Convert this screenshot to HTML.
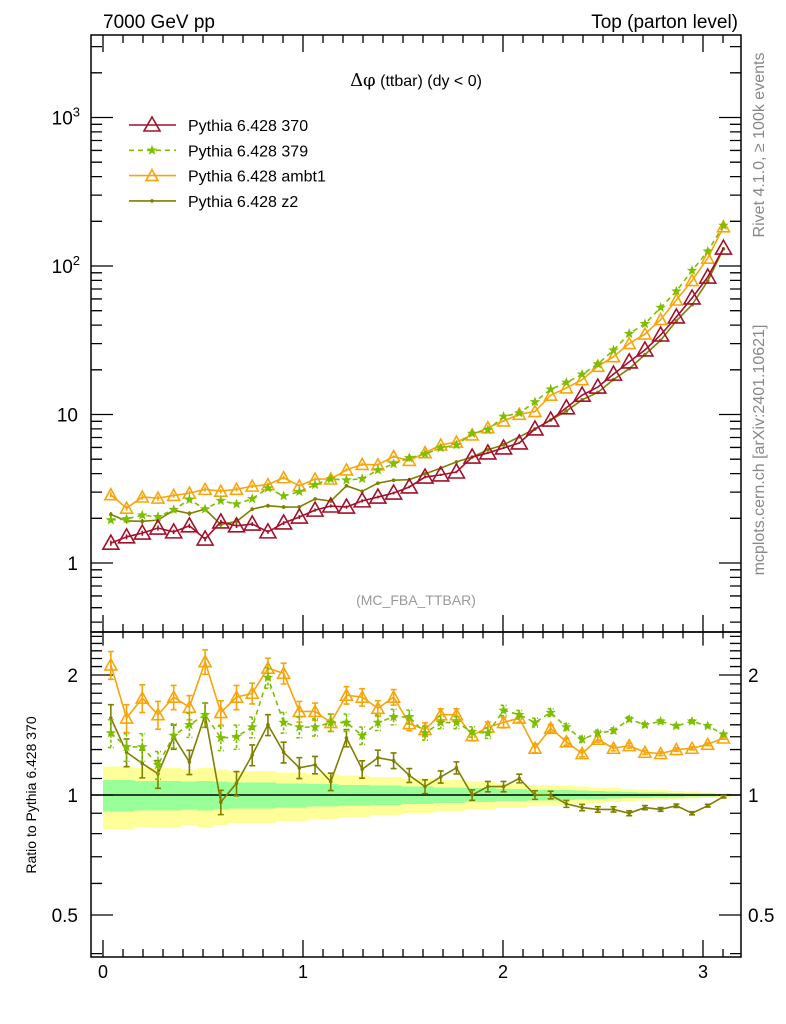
<!DOCTYPE html>
<html><head><meta charset="utf-8">
<style>
html,body{margin:0;padding:0;background:#fff;}
svg{display:block;font-family:"Liberation Sans",Arial,sans-serif;}
</style></head>
<body>
<svg id="chart" width="786" height="1024" viewBox="0 0 786 1024" xmlns="http://www.w3.org/2000/svg">
<g id="bands"></g>
<g id="axes"></g>
<g id="series"></g>
<text x="103" y="28" font-size="19">7000 GeV pp</text>
<text x="738" y="28" font-size="19" text-anchor="end">Top (parton level)</text>
<text x="416" y="86" font-size="16" text-anchor="middle"><tspan font-family="'DejaVu Serif',serif" font-size="18">Δφ</tspan> (ttbar) (dy &lt; 0)</text>
<text x="416" y="605" font-size="14" fill="#999" text-anchor="middle">(MC_FBA_TTBAR)</text>
<text transform="translate(764,145) rotate(-90)" font-size="16" fill="#888" text-anchor="middle">Rivet 4.1.0, ≥ 100k events</text>
<text transform="translate(764,450) rotate(-90)" font-size="16" fill="#888" text-anchor="middle">mcplots.cern.ch [arXiv:2401.10621]</text>
<text transform="translate(36,795) rotate(-90)" font-size="14" text-anchor="middle">Ratio to Pythia 6.428 370</text>
<g id="legend"></g>
</svg>
<script>
// bins: 40 bins from 0 to pi
const nBins = 40;
const binLo = 0, binHi = Math.PI;
// Pythia 6.428 370 (reference) values
const ref370 = [1.36,1.50,1.59,1.72,1.62,1.78,1.45,1.89,1.78,1.83,1.62,1.86,2.04,2.27,2.42,2.38,2.62,2.78,2.96,3.25,3.79,3.92,4.10,5.17,5.51,5.95,6.43,7.99,9.18,11.1,13.5,15.3,18.7,22.6,27.2,34.3,45.4,60.9,84.3,132];
// ratios to 370
const ratio379 = [1.43,1.32,1.32,1.19,1.41,1.50,1.59,1.39,1.40,1.48,1.97,1.52,1.48,1.48,1.52,1.52,1.41,1.52,1.57,1.57,1.43,1.52,1.52,1.44,1.43,1.63,1.59,1.52,1.61,1.48,1.38,1.43,1.45,1.55,1.50,1.53,1.49,1.53,1.49,1.42];
const ratioAmbt1 = [2.12,1.56,1.75,1.59,1.76,1.66,2.16,1.61,1.76,1.80,2.08,2.02,1.62,1.62,1.52,1.78,1.76,1.65,1.76,1.51,1.46,1.59,1.59,1.41,1.48,1.52,1.56,1.31,1.47,1.36,1.27,1.38,1.31,1.33,1.28,1.27,1.30,1.31,1.34,1.39];
const ratioZ2 = [1.56,1.28,1.20,1.13,1.40,1.21,1.59,0.96,1.07,1.26,1.50,1.28,1.17,1.19,1.08,1.39,1.16,1.24,1.22,1.12,1.05,1.11,1.17,1.00,1.05,1.05,1.10,1.00,1.00,0.95,0.93,0.92,0.92,0.90,0.93,0.92,0.94,0.90,0.94,0.99];
// relative MC errors
const relErr = [0.08,0.08,0.08,0.08,0.07,0.07,0.07,0.07,0.07,0.06,0.06,0.06,0.06,0.05,0.05,0.05,0.05,0.045,0.045,0.04,0.04,0.035,0.035,0.03,0.03,0.03,0.025,0.025,0.022,0.02,0.018,0.016,0.015,0.014,0.012,0.011,0.01,0.009,0.008,0.007];
// reference uncertainty bands (relative half-widths)
const statBand = [0.09,0.09,0.085,0.085,0.085,0.08,0.085,0.08,0.075,0.075,0.075,0.07,0.07,0.065,0.065,0.06,0.06,0.055,0.055,0.05,0.05,0.045,0.045,0.04,0.04,0.035,0.035,0.03,0.03,0.028,0.025,0.022,0.02,0.018,0.016,0.014,0.012,0.01,0.008,0.006];
const totBand = [0.18,0.18,0.17,0.17,0.17,0.16,0.17,0.16,0.15,0.15,0.15,0.14,0.14,0.13,0.13,0.12,0.12,0.11,0.11,0.10,0.10,0.09,0.09,0.08,0.08,0.07,0.07,0.06,0.06,0.055,0.05,0.045,0.04,0.036,0.032,0.028,0.024,0.02,0.016,0.012];
const xTicks = [0,1,2,3];
const mainTicks = ["1","10","10^2","10^3"];
const ratioTicks = [0.5,1,2];

const NS="http://www.w3.org/2000/svg";
const L=91,R=741,T=35,MB=632,RB=957;
const X=v=>103+200*v;
const Ym=v=>563-148.5*Math.log10(v);
const Yr=v=>795-398.6*Math.log10(v);
function mk(tag,attrs,parent){const e=document.createElementNS(NS,tag);for(const k in attrs)e.setAttribute(k,attrs[k]);parent.appendChild(e);return e;}
const axes=document.getElementById('axes'),bands=document.getElementById('bands'),ser=document.getElementById('series'),leg=document.getElementById('legend');
const bw=(binHi-binLo)/nBins;
const cx=i=>X(binLo+bw*(i+0.5));

let yp='',gp='';
for(let i=0;i<nBins;i++){const x0=X(binLo+bw*i),x1=X(binLo+bw*(i+1));
 yp+=`M${x0},${Yr(1+totBand[i])}H${x1}V${Yr(1-totBand[i])}H${x0}Z`;
 gp+=`M${x0},${Yr(1+statBand[i])}H${x1}V${Yr(1-statBand[i])}H${x0}Z`;}
const yb=mk('path',{d:yp,fill:'#ffff99','shape-rendering':'crispEdges'},bands);


const gb=mk('path',{d:gp,fill:'#99ff99','shape-rendering':'crispEdges'},bands);


const one=mk('line',{x1:L,x2:R,y1:Yr(1),y2:Yr(1),stroke:'#000','stroke-width':1.5},bands);



for(const [y0,y1,n] of [[T,MB,'main-frame'],[MB,RB,'ratio-frame']]){
 const f=mk('rect',{x:L,y:y0,width:R-L,height:y1-y0,fill:'none',stroke:'#000','stroke-width':1.5},axes);
 
 }
let tp='';
for(let v=0;v<=3.19;v+=0.1){const x=X(v);const maj=Math.abs(v-Math.round(v))<1e-6;const len=maj?17:8;
 tp+=`M${x},${T}v${len}M${x},${MB}v${-len}M${x},${MB}v${len*0.8}M${x},${RB}v${-len}`;}
xTicks.forEach(v=>{const t=mk('text',{x:X(v),y:978,'font-size':18,'text-anchor':'middle'},axes);t.textContent=v;
 
 });
for(let d=-1;d<=3;d++){for(let m=1;m<10;m++){const v=m*Math.pow(10,d);const y=Ym(v);if(y<T||y>MB)continue;const len=m==1?22:11;
 tp+=`M${L},${y}h${len}M${R},${y}h${-len}`;}}
mainTicks.forEach((s,k)=>{const y=Ym(Math.pow(10,k));const t=mk('text',{x:78,y:y+7,'font-size':19,'text-anchor':'end'},axes);
 if(s.indexOf('^')>0){const p=s.split('^');t.textContent=p[0];const sp=mk('tspan',{dy:-8,'font-size':13},t);sp.textContent=p[1];t.setAttribute('x',80);}
 else t.textContent=s;
 
 });
for(let v=0.4;v<=2.55;v+=0.1){const y=Yr(v);if(y<MB||y>RB)continue;const maj=[0.5,1,2].some(m=>Math.abs(m-v)<1e-6);const len=maj?22:11;
 tp+=`M${L},${y}h${len}M${R},${y}h${-len}`;}
ratioTicks.forEach(v=>{for(const [x,a] of [[78,'end'],[748,'start']]){const t=mk('text',{x:x,y:Yr(v)+7,'font-size':19,'text-anchor':a},axes);t.textContent=v;
 
 }});
const tk=mk('path',{d:tp,stroke:'#000','stroke-width':1.3,fill:'none'},axes);



function marker(type,x,y,col,g){
 if(type==='tri'){return mk('path',{d:`M${x},${y-8}L${x+8},${y+6}L${x-8},${y+6}Z`,fill:'none',stroke:col,'stroke-width':1.6},g);}
 if(type==='tri2'){return mk('path',{d:`M${x},${y-6}L${x+6},${y+5}L${x-6},${y+5}Z`,fill:'none',stroke:col,'stroke-width':1.6},g);}
 if(type==='star'){let d='';for(let k=0;k<10;k++){const r=k%2?2.3:5.5,a=-Math.PI/2+k*Math.PI/5;d+=(k?'L':'M')+(x+r*Math.cos(a))+','+(y+r*Math.sin(a));}return mk('path',{d:d+'Z',fill:col},g);}
 return mk('circle',{cx:x,cy:y,r:1.8,fill:col},g);
}
const defs=[
 {name:'pythia-370',label:'Pythia 6.428 370',col:'#a3112c',m:'tri',dash:'',ratio:ref370.map(()=>1)},
 {name:'pythia-379',label:'Pythia 6.428 379',col:'#7dbf00',m:'star',dash:'5,4',ratio:ratio379},
 {name:'pythia-ambt1',label:'Pythia 6.428 ambt1',col:'#f7a50a',m:'tri2',dash:'',ratio:ratioAmbt1},
 {name:'pythia-z2',label:'Pythia 6.428 z2',col:'#7f7f00',m:'dot',dash:'',ratio:ratioZ2}];
const order=[3,2,1,0];
order.forEach(si=>{const s=defs[si];const g=mk('g',{},ser);
 
 
 const vals=ref370.map((v,i)=>v*s.ratio[i]);
 let pm='',pr='',eb='';
 for(let i=0;i<nBins;i++){const x=cx(i);const ym=Ym(vals[i]);pm+=(i?'L':'M')+x+','+ym;
  eb+=`M${x},${Ym(vals[i]*(1+relErr[i]*0.5))}V${Ym(vals[i]*(1-relErr[i]*0.5))}`;
  if(si>0){const yr=Yr(s.ratio[i]);pr+=(i?'L':'M')+x+','+yr;
   const e=relErr[i]*s.ratio[i];const a=Yr(s.ratio[i]+e),b=Yr(s.ratio[i]-e);
   eb+=`M${x},${a}V${b}M${x-3},${a}h6M${x-3},${b}h6`;}}
 const lm=mk('path',{d:pm,fill:'none',stroke:s.col,'stroke-width':1.6,'stroke-dasharray':s.dash},g);
 
 
 if(pr){const lr=mk('path',{d:pr,fill:'none',stroke:s.col,'stroke-width':1.6,'stroke-dasharray':s.dash},g);
  
  }
 const ebp=mk('path',{d:eb,fill:'none',stroke:s.col,'stroke-width':1.6,'stroke-dasharray':s.dash?'3,2':''},g);
 
 
 for(let i=0;i<nBins;i++){const p=marker(s.m,cx(i),Ym(vals[i]),s.col,g);
  
  
  if(si>0){const q=marker(s.m,cx(i),Yr(s.ratio[i]),s.col,g);
   
   }}
});
defs.forEach((s,k)=>{const y=125+25.3*k;const g=mk('g',{},leg);
 
 
 mk('line',{x1:129,x2:176,y1:y,y2:y,stroke:s.col,'stroke-width':1.6,'stroke-dasharray':s.dash},g);
 marker(s.m,152,y,s.col,g);
 const t=mk('text',{x:188,y:y+6,'font-size':16},g);t.textContent=s.label;});
</script>
</body></html>
